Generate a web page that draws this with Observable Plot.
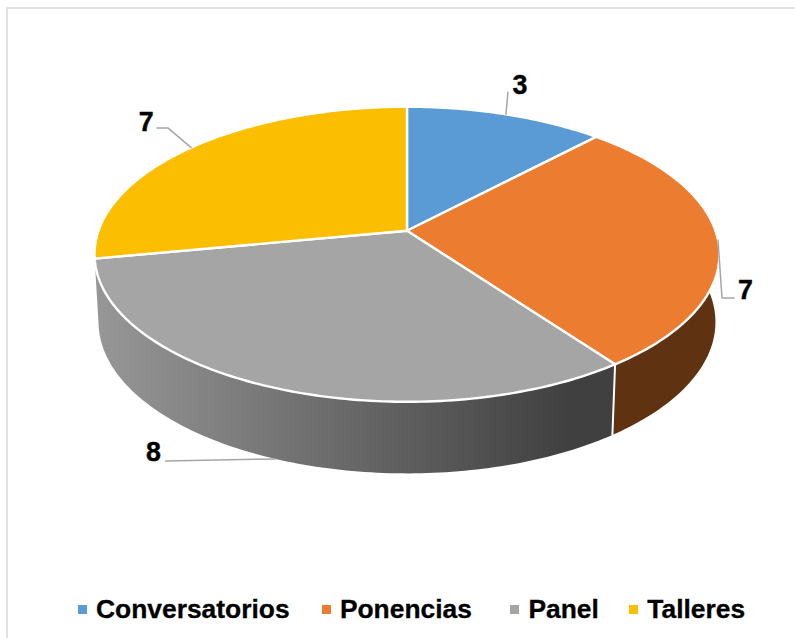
<!DOCTYPE html>
<html lang="es">
<head>
<meta charset="utf-8">
<script src="https://cdn.jsdelivr.net/npm/d3@7"></script>
<script src="https://cdn.jsdelivr.net/npm/@observablehq/plot@0.6"></script>
<style>
  html, body { margin: 0; padding: 0; background: #fff; overflow: hidden; }
  body { width: 795px; height: 638px; position: relative; font-family: "Liberation Sans", Arial, sans-serif; }
  #frame { position: absolute; left: 6px; top: 7px; right: 0; bottom: 0; border-left: 2px solid #e2e2e2; border-top: 2px solid #e2e2e2; pointer-events: none; }
  #chart svg { display: block; }
  #legend { position: absolute; left: 78px; top: 590px; height: 38px; display: flex; align-items: center; font-weight: 700; font-size: 26.4px; color: #000; white-space: nowrap; -webkit-text-stroke: 0.3px #000; }
  .item { display: flex; align-items: center; }
  .item i { width: 9px; height: 9px; margin-right: 9px; display: block; }
  .item:nth-child(2) { margin-left: 32.3px; }
  .item:nth-child(3) { margin-left: 38.5px; }
  .item:nth-child(4) { margin-left: 30.5px; }
</style>
</head>
<body>
<div id="chart"></div>
<div id="legend"></div>
<div id="frame"></div>
<script>
const categories = ["Conversatorios", "Ponencias", "Panel", "Talleres"];
const values = [3, 7, 8, 7];
const colors = ["#5B9BD5", "#EC7C30", "#A5A5A5", "#FCBE00"];

// Perspective view of the disc: top face and bottom face
const topFace = {cx: 406.5, cy: 230.3, a: 308.5, b: 143.8, k: 0.159};
const botFace = {cx: 406.5, cy: 297.5, a: 304.5, b: 147.5, k: 0.159};
const project = (f, t) => {
  const X = Math.sin(t), Y = Math.cos(t), w = 1 + f.k * Y;
  return [f.cx + f.a * X / w, f.cy - f.b * Y / w];
};
const arcs = d3.pie().sort(null).value(d => d)(values);
const arcAngles = (d) => {
  const n = Math.ceil((d.endAngle - d.startAngle) * 180 / Math.PI);
  return d3.range(n + 1).map(i => d.startAngle + (d.endAngle - d.startAngle) * i / n);
};
const topSlices = arcs.flatMap((d, i) => [
  {name: categories[i], x: topFace.cx, y: topFace.cy},
  ...arcAngles(d).map(t => {
    const [x, y] = project(topFace, t);
    return {name: categories[i], x, y};
  })
]);
const wall = (i) => {
  const ts = arcAngles(arcs[i]);
  return [
    ...ts.map(t => project(topFace, t)),
    ...ts.slice().reverse().map(t => project(botFace, t))
  ].map(([x, y]) => ({x, y}));
};
const cornerT = arcs[1].endAngle;
const corner = [project(topFace, cornerT), project(botFace, cornerT)].map(([x, y]) => ({x, y}));

// Leader lines start on the middle of each slice's rim
const mid = arcs.map(d => (d.startAngle + d.endAngle) / 2);
const start = [project(topFace, mid[0]), project(topFace, mid[1]), project(botFace, mid[2]), project(topFace, mid[3])];
const leaderBends = [
  [[2, -22]],
  [[4, 58], [16, 58]],
  [[-110, 2]],
  [[-23, -19.5], [-34, -19.5]]
];
const labelOffsets = [[14, -28.5], [27.5, 51], [-122, -7], [-45, -25]];
const leaders = start.flatMap(([x, y], i) => [
  {name: categories[i], x, y},
  ...leaderBends[i].map(([dx, dy]) => ({name: categories[i], x: x + dx, y: y + dy}))
]);
const labels = start.map(([x, y], i) => ({
  value: values[i], x: x + labelOffsets[i][0], y: y + labelOffsets[i][1]
}));

const defs = () => {
  const d = d3.create("svg:defs");
  const g = d.append("linearGradient").attr("id", "wallGrey")
    .attr("gradientUnits", "userSpaceOnUse")
    .attr("x1", 100).attr("x2", 570).attr("y1", 0).attr("y2", 0);
  g.append("stop").attr("offset", 0).attr("stop-color", "#969696");
  g.append("stop").attr("offset", 1).attr("stop-color", "#404040");
  return d.node();
};

const chart = Plot.plot({
  width: 795, height: 590, margin: 0,
  x: {domain: [0, 795], range: [0, 795], axis: null},
  y: {domain: [0, 590], range: [0, 590], axis: null},
  color: {domain: categories, range: colors},
  style: {background: "transparent"},
  marks: [
    defs,
    Plot.line(wall(2), {x: "x", y: "y", fill: "url(#wallGrey)", stroke: "none", curve: "linear-closed"}),
    Plot.line(wall(1), {x: "x", y: "y", fill: "#5F3212", stroke: "none", curve: "linear-closed"}),
    Plot.line(corner, {x: "x", y: "y", stroke: "#fff", strokeWidth: 2}),
    Plot.line(topSlices, {x: "x", y: "y", z: "name", fill: "name", stroke: "#fff", strokeWidth: 2.4, strokeLinejoin: "round", curve: "linear-closed"}),
    Plot.line(leaders, {x: "x", y: "y", z: "name", stroke: "#A6A6A6", strokeWidth: 1.5, curve: "linear"}),
    Plot.text(labels, {x: "x", y: "y", text: d => String(d.value), fill: "#000", stroke: "#000", strokeWidth: 0.4, fontSize: 26.8, fontWeight: 700, fontFamily: "Liberation Sans, Arial, sans-serif", textAnchor: "middle", lineAnchor: "middle"})
  ]
});
document.getElementById("chart").append(chart);

const legend = d3.select("#legend");
categories.forEach((c, i) => {
  const it = legend.append("div").attr("class", "item");
  it.append("i").style("background", colors[i]);
  it.append("span").text(c);
});
</script>
</body>
</html>
